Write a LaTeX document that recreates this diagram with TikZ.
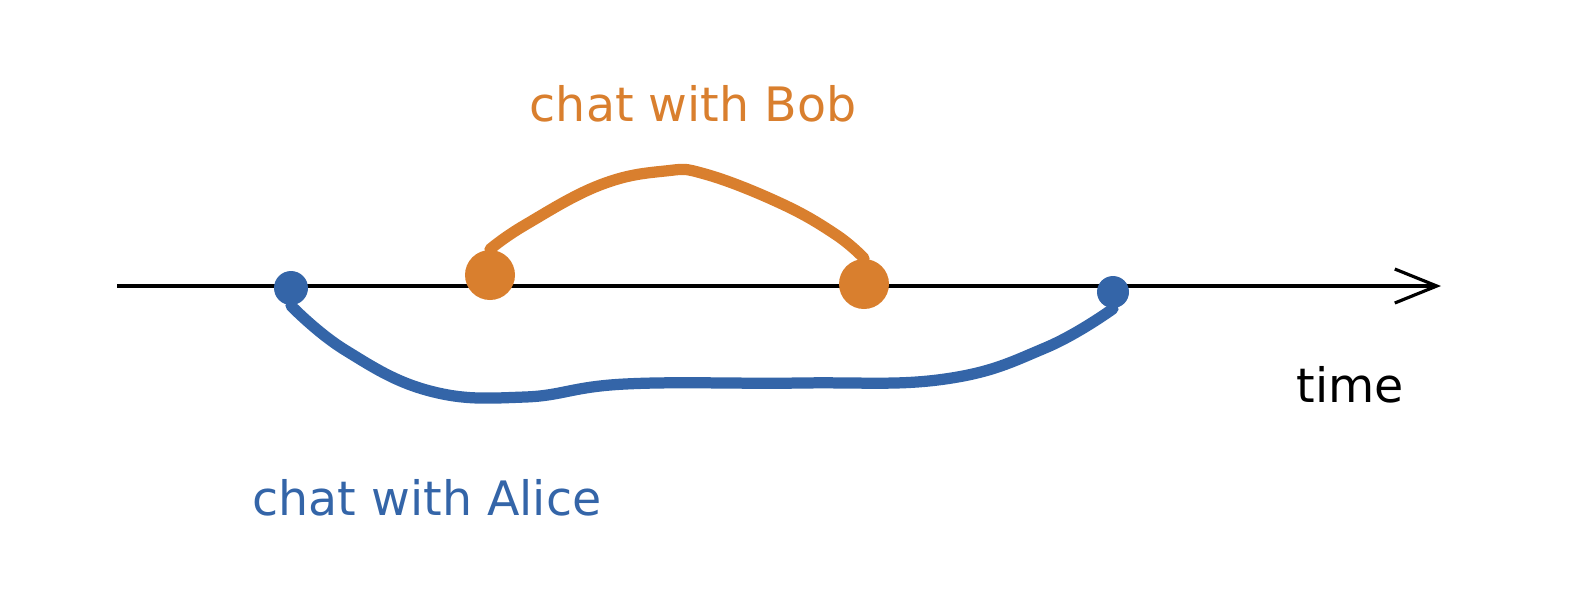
\documentclass[tikz,border=0pt]{standalone}
\usepackage{fontspec}
\setmainfont{DejaVu Sans}
\usetikzlibrary{arrows.meta}

\definecolor{bobcol}{HTML}{D97F2E}
\definecolor{alicecol}{HTML}{3465A8}

\begin{document}
\begin{tikzpicture}[x=0.1mm,y=-0.1mm,
  blob/.style={circle,fill=#1,inner sep=0pt},
  chatline/.style={line width=3.2pt,line cap=round,line join=round,#1},
  lbl/.style={font=\fontsize{13.5}{15}\selectfont,text=#1}]

\useasboundingbox (0,0) rectangle (1580,590);

% time axis
\coordinate (t0) at (117,286);
\coordinate (t1) at (1441,286);
\draw [line width=0.9pt][-{Straight Barb[length=4.2mm,width=3.4mm,line width=0.9pt]}] (t0) -- (t1);
\node (time) at (1350,385) {\fontsize{13.5}{15}\selectfont time};

% chat with Bob
\node [blob=bobcol,minimum size=5mm] (bobA) at (490,275) {};
\node [blob=bobcol,minimum size=5mm] (bobB) at (864,284) {};
\draw [chatline=bobcol] plot [smooth,tension=0.7] coordinates
  {(bobA.north) (525,225) (600,185) (665,171) (705,174) (780,203) (835,234) (bobB.north)};
\node [lbl=bobcol] (boblbl) at (693,104) {chat with Bob};

% chat with Alice
\node [blob=alicecol,minimum size=3.4mm] (alA) at (291,288) {};
\node [blob=alicecol,minimum size=3.2mm] (alB) at (1113,292) {};
\draw [chatline=alicecol] plot [smooth,tension=0.7] coordinates
  {(alA.south) (345,350) (430,391) (525,397) (625,384) (800,383) (945,379) (1045,348) (alB.south)};
\node [lbl=alicecol] (alicelbl) at (427,498) {chat with Alice};

\end{tikzpicture}
\end{document}
